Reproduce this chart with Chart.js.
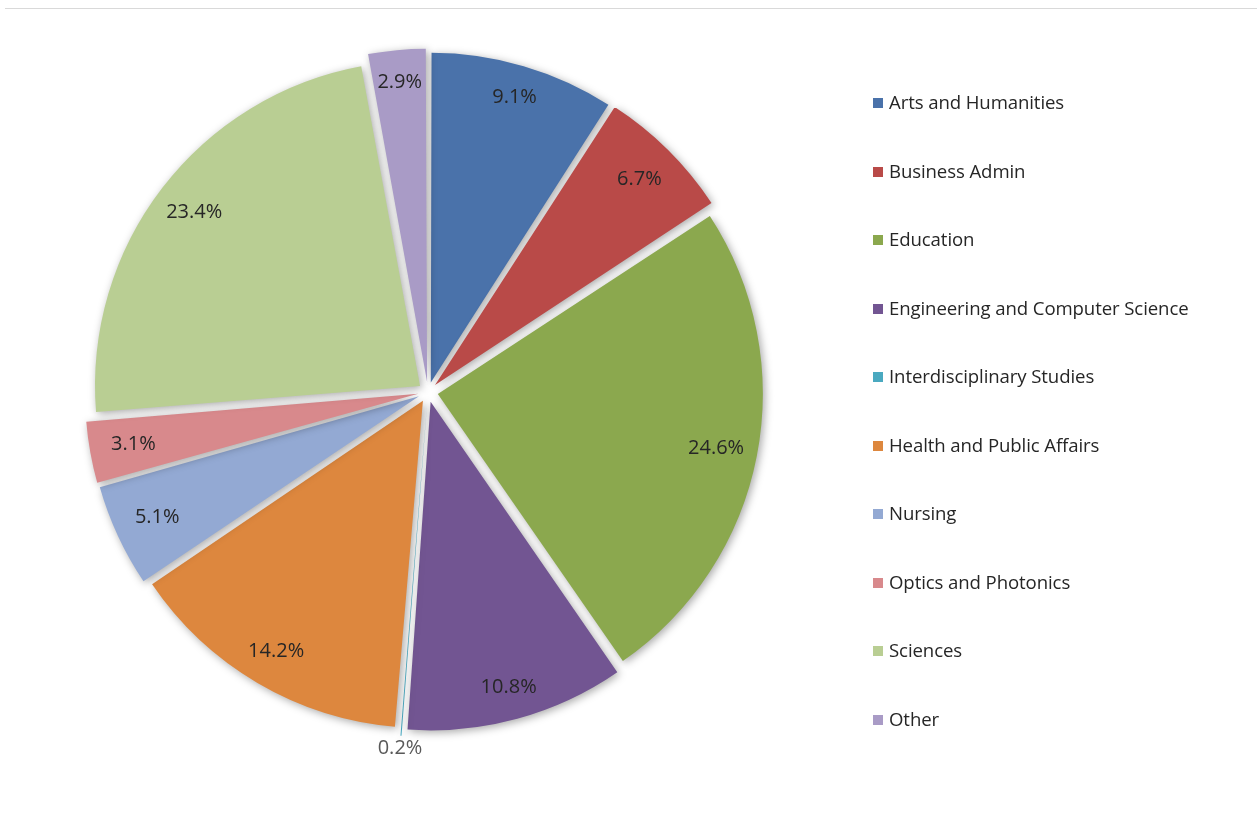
<!DOCTYPE html>
<html>
<head>
<meta charset="utf-8">
<script src="https://cdn.jsdelivr.net/npm/chart.js@4/dist/chart.umd.min.js"></script>
<style>
  body { margin: 0; background: #fff; font-family: "Open Sans", Lato, sans-serif; }
  #wrap { position: relative; width: 1257px; height: 825px; }
  #topline { position: absolute; left: 5px; right: 0; top: 8px; height: 1px; background: #d9d9d9; }
  #chart { position: absolute; left: 0; top: 0; }
  #legend { position: absolute; left: 873px; top: 0; }
  .item { position: absolute; left: 0; white-space: nowrap; font-size: 18.6px; color: #262626; line-height: 22px; letter-spacing: -0.1px; }
  .box { display: inline-block; width: 10px; height: 10px; margin-right: 6px; vertical-align: 1px; }
</style>
</head>
<body>
<div id="wrap">
  <div id="topline"></div>
  <canvas id="chart" width="1257" height="825"></canvas>
  <div id="legend"></div>
</div>
<script>
// --- Daten ---
const categories = [
  'Arts and Humanities', 'Business Admin', 'Education',
  'Engineering and Computer Science', 'Interdisciplinary Studies',
  'Health and Public Affairs', 'Nursing', 'Optics and Photonics',
  'Sciences', 'Other'
];
const shares = [9.1, 6.7, 24.6, 10.8, 0.2, 14.2, 5.1, 3.1, 23.4, 2.9];
const sliceColors = [
  '#4a72aa', '#b94a48', '#8ba84e', '#725592', '#4aa9c0',
  '#dd873e', '#93a9d3', '#d8898c', '#b9ce93', '#a99bc6'
];

// Chart.js v4 verschiebt um offset/4 -> 40 ergibt ca. 10px Abstand
const EXPLODE = 40;

// Legende als HTML (feste Abstände wie im Original)
const legendEl = document.getElementById('legend');
categories.forEach((name, i) => {
  const div = document.createElement('div');
  div.className = 'item';
  div.style.top = (91 + i * 68.5) + 'px';
  div.innerHTML = '<span class="box" style="background:' + sliceColors[i] + '"></span>' + name;
  legendEl.appendChild(div);
});

// Schatten hinter den Segmenten
const shadowPlugin = {
  id: 'sliceShadow',
  beforeDatasetsDraw(chart) {
    const ctx = chart.ctx;
    ctx.save();
    ctx.shadowColor = 'rgba(0,0,0,0.35)';
    ctx.shadowBlur = 9;
    ctx.shadowOffsetX = 2;
    ctx.shadowOffsetY = 2;
  },
  afterDatasetsDraw(chart) {
    chart.ctx.restore();
  }
};

// Prozent-Beschriftungen ("inside end", kleine Segmente außen)
const labelPlugin = {
  id: 'pctLabels',
  afterDraw(chart) {
    const ctx = chart.ctx;
    const meta = chart.getDatasetMeta(0);
    const shift = EXPLODE / 4;
    ctx.save();
    ctx.font = '20px "Open Sans", Lato, sans-serif';
    ctx.textAlign = 'center';
    ctx.textBaseline = 'middle';
    meta.data.forEach((arc, i) => {
      const p = arc.getProps(['x', 'y', 'startAngle', 'endAngle', 'outerRadius'], true);
      const mid = (p.startAngle + p.endAngle) / 2;
      const dx = Math.cos(mid), dy = Math.sin(mid);
      const text = shares[i].toFixed(1) + '%';
      const w = ctx.measureText(text).width;
      const h = 20;
      let d;
      if (shares[i] < 1) {
        d = p.outerRadius + shift + 22;
        ctx.fillStyle = '#595959';
      } else {
        const support = Math.abs(dx) * w / 2 + Math.abs(dy) * h / 2;
        d = p.outerRadius + shift - 12 - support;
        ctx.fillStyle = '#262626';
      }
      ctx.fillText(text, p.x + dx * d, p.y + dy * d);
    });
    ctx.restore();
  }
};

const chart = new Chart(document.getElementById('chart'), {
  type: 'pie',
  data: {
    labels: categories,
    datasets: [{
      data: shares,
      backgroundColor: sliceColors,
      borderWidth: 0,
      offset: EXPLODE
    }]
  },
  options: {
    responsive: false,
    animation: false,
    radius: 325,
    layout: { padding: { left: 0, right: 401, top: 0, bottom: 41 } },
    plugins: {
      legend: { display: false },
      tooltip: { enabled: false }
    }
  },
  plugins: [shadowPlugin, labelPlugin]
});
</script>
</body>
</html>
